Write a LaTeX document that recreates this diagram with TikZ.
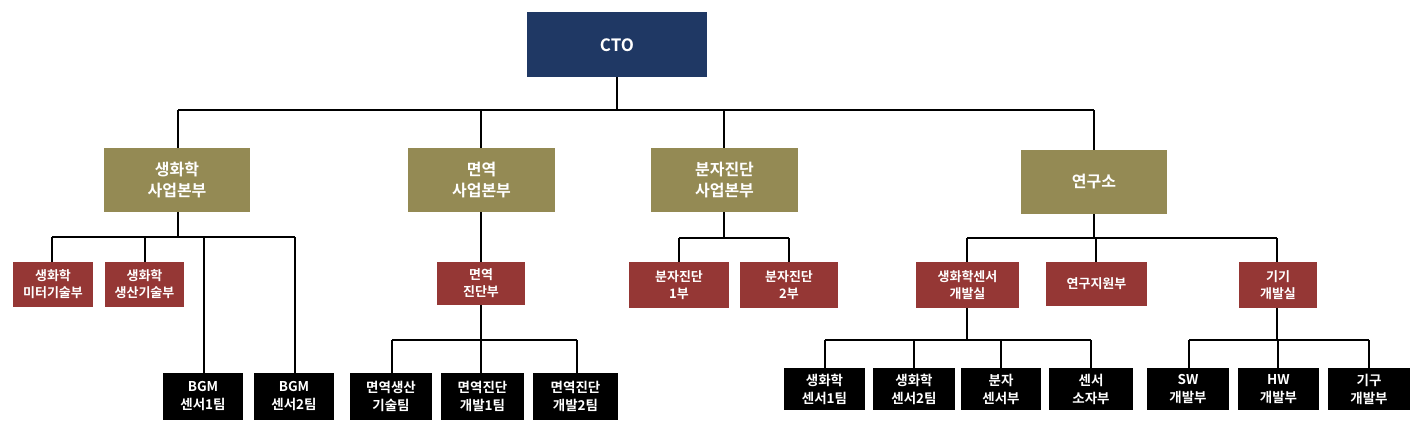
\documentclass[tikz,border=0pt]{standalone}
\usepackage{fontspec}
\newfontfamily\kr{Noto Sans CJK KR}[BoldFont={* Bold}]
\definecolor{navy}{HTML}{1F3864}
\definecolor{olive}{HTML}{948A54}
\definecolor{brick}{HTML}{953735}
\begin{document}
\begin{tikzpicture}[x=1pt,y=-1pt,
  bx/.style={draw=none,inner sep=0,align=center,text=white,font=\kr\bfseries},
  lv1/.style={bx,fill=navy,font=\kr\bfseries\fontsize{17}{20}\selectfont},
  lv2/.style={bx,fill=olive,font=\kr\bfseries\fontsize{16}{21}\selectfont},
  lv3/.style={bx,fill=brick,font=\kr\bfseries\fontsize{13}{17}\selectfont},
  lv4/.style={bx,fill=black,font=\kr\bfseries\fontsize{13.5}{18}\selectfont},
  ln/.style={draw=black,line width=1.5pt}]
\useasboundingbox (0,0) rectangle (1417,424);
\newcommand\bx[6]{\path[#1] (#2,#3) rectangle (#4,#5) node[#1,fill=none,pos=.5] (n#2) {#6};}
% level 1
\fill[navy] (527,12) rectangle (707,77); \node[lv1,fill=none] (cto) at (617,45) {CTO};
% level 2
\foreach \a/\b/\c/\d/\t in {104/148/250/212/{생화학\\사업본부},408/148/555/212/{면역\\사업본부},651/148/798/212/{분자진단\\사업본부},1021/150/1167/214/{연구소}}{
  \fill[olive] (\a,\b) rectangle (\c,\d);
  \node[lv2,fill=none] (o\a) at ({(\a+\c)/2},{(\b+\d)/2}) {\t};}
% level 3
\foreach \a/\b/\c/\d/\t in {13/262/93/307/{생화학\\미터기술부},105/262/184/307/{생화학\\생산기술부},437/262/525/305/{면역\\진단부},629/262/729/308/{분자진단\\1부},740/262/838/308/{분자진단\\2부},916/262/1019/308/{생화학센서\\개발실},1046/262/1147/306/{연구지원부},1239/262/1317/308/{기기\\개발실}}{
  \fill[brick] (\a,\b) rectangle (\c,\d);
  \node[lv3,fill=none] (r\a) at ({(\a+\c)/2},{(\b+\d)/2}) {\t};}
% level 4
\foreach \a/\b/\c/\d/\t in {163/373/243/420/{BGM\\센서1팀},254/373/334/420/{BGM\\센서2팀},350/373/432/420/{면역생산\\기술팀},441/373/524/420/{면역진단\\개발1팀},533/373/618/420/{면역진단\\개발2팀},784/368/865/410/{생화학\\센서1팀},873/368/955/410/{생화학\\센서2팀},961/368/1041/410/{분자\\센서부},1049/368/1133/410/{센서\\소자부},1147/368/1229/410/{SW\\개발부},1238/368/1319/410/{HW\\개발부},1328/368/1410/410/{기구\\개발부}}{
  \fill[black] (\a,\b) rectangle (\c,\d);
  \node[lv4,fill=none] (k\a) at ({(\a+\c)/2},{(\b+\d)/2}) {\t};}
% connectors
\draw[ln] (617,77) -- (617,110) (178,110) -- (1094,110);
\draw[ln] (178,110) -- (178,148) (481,110) -- (481,148) (724,110) -- (724,148) (1094,110) -- (1094,150);
\draw[ln] (178,212) -- (178,237) (52,237) -- (295,237) (52,237) -- (52,262) (145,237) -- (145,262) (204,237) -- (204,373) (295,237) -- (295,373);
\draw[ln] (481,212) -- (481,262) (481,305) -- (481,340) (392,340) -- (577,340) (392,340) -- (392,373) (481,340) -- (481,373) (577,340) -- (577,373);
\draw[ln] (724,212) -- (724,238) (679,238) -- (789,238) (679,238) -- (679,262) (789,238) -- (789,262);
\draw[ln] (1094,214) -- (1094,238) (967,238) -- (1277,238) (967,238) -- (967,262) (1096,238) -- (1096,262) (1277,238) -- (1277,262);
\draw[ln] (967,308) -- (967,340) (825,340) -- (1091,340) (825,340) -- (825,368) (914,340) -- (914,368) (1001,340) -- (1001,368) (1091,340) -- (1091,368);
\draw[ln] (1277,308) -- (1277,340) (1189,340) -- (1369,340) (1189,340) -- (1189,368) (1278,340) -- (1278,368) (1369,340) -- (1369,368);
\end{tikzpicture}
\end{document}
